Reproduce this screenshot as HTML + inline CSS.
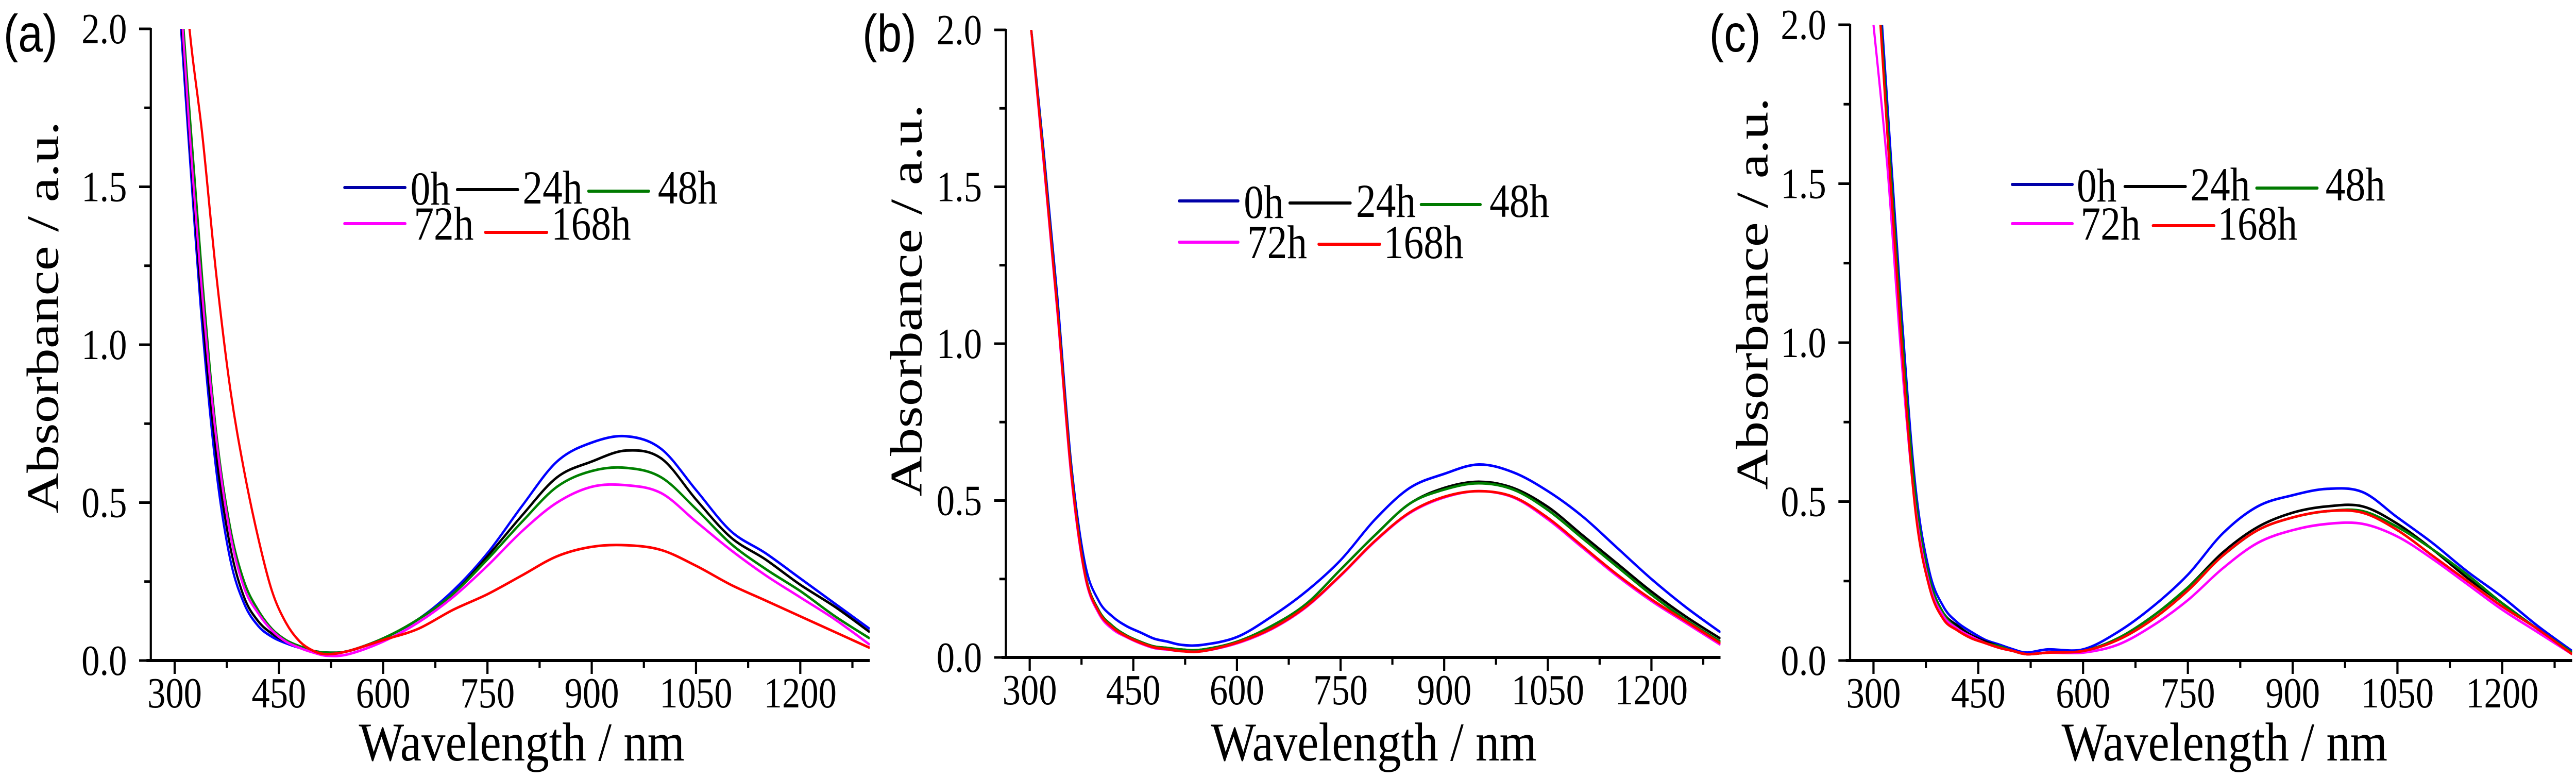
<!DOCTYPE html>
<html><head><meta charset="utf-8">
<style>
html,body{margin:0;padding:0;background:#fff;width:100%;height:100%;overflow:hidden;}
svg{display:block;position:absolute;left:0;top:0;width:100vw;height:100vh;}
</style></head>
<body>
<svg id="fig" viewBox="0 0 5944 1510" preserveAspectRatio="none" xmlns="http://www.w3.org/2000/svg"></svg>
<script>
// Shared wavelength grid (nm)
const wavelengths = [300,320,340,360,380,400,420,440,460,480,500,520,550,600,650,700,750,800,850,900,950,1000,1050,1100,1150,1200,1250,1300];
const seriesNames = ["0h","24h","48h","72h","168h"];
const xTickLabels = [300,450,600,750,900,1050,1200];
const yTickLabels = ["0.0","0.5","1.0","1.5","2.0"];
const yTickValues = [0,0.5,1.0,1.5,2.0];

// Panel (a)
const a0h   = [2.3,1.65,1.05,0.6,0.32,0.18,0.11,0.075,0.055,0.04,0.03,0.025,0.03,0.07,0.13,0.22,0.34,0.49,0.63,0.69,0.71,0.67,0.54,0.41,0.34,0.26,0.18,0.10];
const a24h  = [2.35,1.7,1.1,0.65,0.36,0.2,0.125,0.085,0.06,0.045,0.03,0.025,0.03,0.07,0.13,0.21,0.33,0.46,0.58,0.63,0.665,0.64,0.51,0.39,0.32,0.24,0.17,0.09];
const a48h  = [2.4,1.78,1.2,0.72,0.42,0.25,0.16,0.1,0.065,0.045,0.03,0.025,0.03,0.07,0.13,0.21,0.32,0.44,0.55,0.6,0.61,0.58,0.48,0.37,0.29,0.22,0.14,0.07];
const a72h  = [2.4,1.72,1.15,0.7,0.4,0.23,0.15,0.095,0.06,0.04,0.025,0.015,0.02,0.06,0.12,0.2,0.3,0.41,0.5,0.55,0.555,0.53,0.44,0.35,0.27,0.2,0.13,0.05];
const a168h = [2.6,2.03,1.66,1.22,0.86,0.6,0.39,0.22,0.12,0.06,0.03,0.02,0.03,0.065,0.1,0.16,0.21,0.27,0.33,0.36,0.365,0.35,0.3,0.24,0.19,0.14,0.09,0.04];
// Panel (b)
const b0h   = [2.05,1.62,1.15,0.62,0.3,0.18,0.13,0.1,0.08,0.06,0.05,0.04,0.04,0.065,0.13,0.21,0.31,0.44,0.54,0.585,0.615,0.59,0.53,0.45,0.35,0.25,0.16,0.08];
const b24h  = [2.05,1.6,1.12,0.6,0.27,0.15,0.1,0.07,0.05,0.035,0.03,0.025,0.025,0.05,0.1,0.17,0.28,0.39,0.49,0.54,0.56,0.54,0.48,0.39,0.3,0.21,0.13,0.06];
const b48h  = [2.05,1.6,1.12,0.6,0.27,0.15,0.1,0.07,0.05,0.035,0.03,0.025,0.025,0.05,0.1,0.17,0.28,0.39,0.49,0.535,0.555,0.535,0.47,0.38,0.29,0.2,0.12,0.05];
const b72h  = [2.05,1.58,1.1,0.58,0.26,0.14,0.09,0.065,0.045,0.03,0.025,0.02,0.02,0.045,0.09,0.16,0.26,0.37,0.46,0.51,0.53,0.51,0.44,0.35,0.26,0.18,0.11,0.04];
const b168h = [2.05,1.59,1.11,0.59,0.265,0.145,0.095,0.067,0.047,0.032,0.026,0.02,0.02,0.047,0.092,0.162,0.262,0.372,0.462,0.512,0.53,0.512,0.445,0.355,0.265,0.185,0.115,0.045];
// Panel (c)
const c0h   = [2.4,1.75,1.1,0.55,0.28,0.17,0.12,0.09,0.065,0.05,0.035,0.025,0.035,0.035,0.09,0.17,0.27,0.4,0.485,0.52,0.54,0.53,0.45,0.37,0.28,0.2,0.11,0.03];
const c24h  = [2.35,1.7,1.05,0.5,0.25,0.15,0.11,0.08,0.06,0.045,0.03,0.02,0.025,0.03,0.07,0.14,0.23,0.34,0.42,0.465,0.485,0.485,0.43,0.35,0.26,0.18,0.1,0.025];
const c48h  = [2.35,1.7,1.05,0.52,0.26,0.15,0.1,0.075,0.055,0.045,0.03,0.02,0.025,0.03,0.07,0.14,0.23,0.33,0.41,0.45,0.47,0.47,0.42,0.35,0.27,0.18,0.1,0.025];
const c72h  = [2.0,1.55,0.95,0.48,0.24,0.14,0.1,0.075,0.055,0.04,0.03,0.02,0.025,0.025,0.05,0.11,0.19,0.29,0.37,0.41,0.43,0.43,0.39,0.32,0.24,0.16,0.09,0.02];
const c168h = [2.35,1.65,1.0,0.47,0.23,0.13,0.095,0.07,0.055,0.04,0.03,0.02,0.025,0.03,0.065,0.13,0.22,0.33,0.41,0.45,0.47,0.465,0.41,0.33,0.25,0.17,0.1,0.02];

const colors = ["#0000ff","#000000","#008000","#ff00ff","#ff0000"];
const legendColors = ["#0000a8","#000000","#007a00","#ff00ff","#ff0000"];
const SERIF = "'Liberation Serif', serif";
const SANS = "'Liberation Sans', sans-serif";

const NS = "http://www.w3.org/2000/svg";
const svg = document.getElementById("fig");
function mk(tag, attrs, parent){
  const e = document.createElementNS(NS, tag);
  for (const k in attrs) e.setAttribute(k, attrs[k]);
  (parent||svg).appendChild(e);
  return e;
}

const panels = [
  {id:"a", data:[a0h,a24h,a48h,a72h,a168h], axisX:348, x300:403, pxnm:1.604, y0:1282, y2:56,
   label:{x:8,y:100}, ytitle:{x:134,y:616}, xtitle:{x:1204},
   leg:{r1:[795,935,947, 1055,1195,1206, 1358,1497,1518], r2:[795,935,955, 1120,1262,1272], y1:364,y2:434,y168:451}},
  {id:"b", data:[b0h,b24h,b48h,b72h,b168h], axisX:2321, x300:2376, pxnm:1.594, y0:1276, y2:58,
   label:{x:1990,y:100}, ytitle:{x:2126,y:583}, xtitle:{x:3170},
   leg:{r1:[2721,2857,2870, 2976,3116,3129, 3279,3416,3437], r2:[2721,2857,2878, 3043,3184,3193], y1:390,y2:470,y168:474}},
  {id:"c", data:[c0h,c24h,c48h,c72h,c168h], axisX:4269, x300:4323, pxnm:1.612, y0:1282, y2:48,
   label:{x:3944,y:100}, ytitle:{x:4078,y:570}, xtitle:{x:5133},
   leg:{r1:[4643,4782,4792, 4903,5043,5054, 5207,5347,5366], r2:[4643,4782,4801, 4968,5109,5117], y1:358,y2:434,y168:438}}
];

function smoothPath(pts){
  let d = "M"+pts[0][0].toFixed(1)+","+pts[0][1].toFixed(1);
  for (let i=0;i<pts.length-1;i++){
    const p0=pts[Math.max(0,i-1)], p1=pts[i], p2=pts[i+1], p3=pts[Math.min(pts.length-1,i+2)];
    const c1x=p1[0]+(p2[0]-p0[0])/6, c1y=p1[1]+(p2[1]-p0[1])/6;
    const c2x=p2[0]-(p3[0]-p1[0])/6, c2y=p2[1]-(p3[1]-p1[1])/6;
    d += " C"+c1x.toFixed(1)+","+c1y.toFixed(1)+" "+c2x.toFixed(1)+","+c2y.toFixed(1)+" "+p2[0].toFixed(1)+","+p2[1].toFixed(1);
  }
  return d;
}

panels.forEach(function(P){
  const g = mk("g", {});
  
  
  const xs = function(nm){ return Math.min(P.x300 + (nm-300)*P.pxnm, 5940); };
  const ys = function(v){ return P.y0 - v*(P.y0-P.y2)/2; };
  const xEnd = xs(1300);

  const cp = mk("clipPath", {id:"clip-"+P.id}, g);
  mk("rect", {x:P.axisX, y:P.y2, width:xEnd-P.axisX, height:P.y0-P.y2}, cp);

  const sg = mk("g", {"clip-path":"url(#clip-"+P.id+")"}, g);
  P.data.forEach(function(arr, si){
    const pts = wavelengths.map(function(w,i){ return [xs(w), ys(arr[i])]; });
    const p = mk("path", {d:smoothPath(pts), fill:"none", stroke:colors[si], "stroke-width":5, "stroke-linejoin":"round"}, sg);
    
    
  });

  const ya = mk("line", {x1:P.axisX, y1:P.y2-2, x2:P.axisX, y2:P.y0, stroke:"#000", "stroke-width":5}, g);
  
  
  const xa = mk("line", {x1:P.axisX-10, y1:P.y0, x2:xEnd, y2:P.y0, stroke:"#000", "stroke-width":6}, g);
  
  

  for (let v=0; v<=2.0001; v+=0.25){
    const major = Math.abs(v*2-Math.round(v*2))<1e-6;
    mk("line", {x1:P.axisX-(major?27:15), y1:ys(v), x2:P.axisX, y2:ys(v), stroke:"#000", "stroke-width":5}, g);
  }
  yTickValues.forEach(function(v,i){
    const t = mk("text", {x:P.axisX-55, y:ys(v)+28, "font-size":84, "font-family":SERIF, "text-anchor":"end"}, g);
    t.textContent = yTickLabels[i];
    
    
  });
  for (let nm=300; nm<=1280; nm+=75){
    const major = (nm-300)%150===0;
    mk("line", {x1:xs(nm), y1:P.y0, x2:xs(nm), y2:P.y0+(major?26:14), stroke:"#000", "stroke-width":5}, g);
  }
  xTickLabels.forEach(function(nm){
    const t = mk("text", {x:xs(nm), y:P.y0+91, "font-size":84, "font-family":SERIF, "text-anchor":"middle"}, g);
    t.textContent = String(nm);
    
    
  });

  const xt = mk("text", {x:P.xtitle.x, y:1476, "font-size":106, "font-family":SERIF, "text-anchor":"middle", textLength:752, lengthAdjust:"spacingAndGlyphs"}, g);
  xt.textContent = "Wavelength / nm";
  
  
  const yt = mk("text", {x:0, y:0, "font-size":104, "font-family":SERIF, "text-anchor":"middle", textLength:761, lengthAdjust:"spacingAndGlyphs",
    transform:"translate("+P.ytitle.x+","+P.ytitle.y+") rotate(-90)"}, g);
  yt.textContent = "Absorbance / a.u.";
  
  

  const pl = mk("text", {x:P.label.x, y:P.label.y, "font-size":102, "font-family":SANS}, g);
  pl.textContent = "("+P.id+")";
  
  

  const L = P.leg;
  const lg = mk("g", {}, g);
  
  
  const entries = [
    [L.r1[0],L.r1[1],L.r1[2],L.y1,L.y1+2,0],
    [L.r1[3],L.r1[4],L.r1[5],L.y1+4,L.y1,1],
    [L.r1[6],L.r1[7],L.r1[8],L.y1+7,L.y1,2],
    [L.r2[0],L.r2[1],L.r2[2],L.y2,L.y2,3],
    [L.r2[3],L.r2[4],L.r2[5],L.y168,L.y2,4]
  ];
  entries.forEach(function(e){
    const eg = mk("g", {}, lg);
    
    
    mk("line", {x1:e[0], y1:e[3], x2:e[1], y2:e[3], stroke:legendColors[e[5]], "stroke-width":6, "stroke-linecap":"round"}, eg);
    const t = mk("text", {x:e[2], y:e[4]+31, "font-size":92, "font-family":SERIF}, eg);
    t.textContent = seriesNames[e[5]];
  });
});
</script>
</body></html>
